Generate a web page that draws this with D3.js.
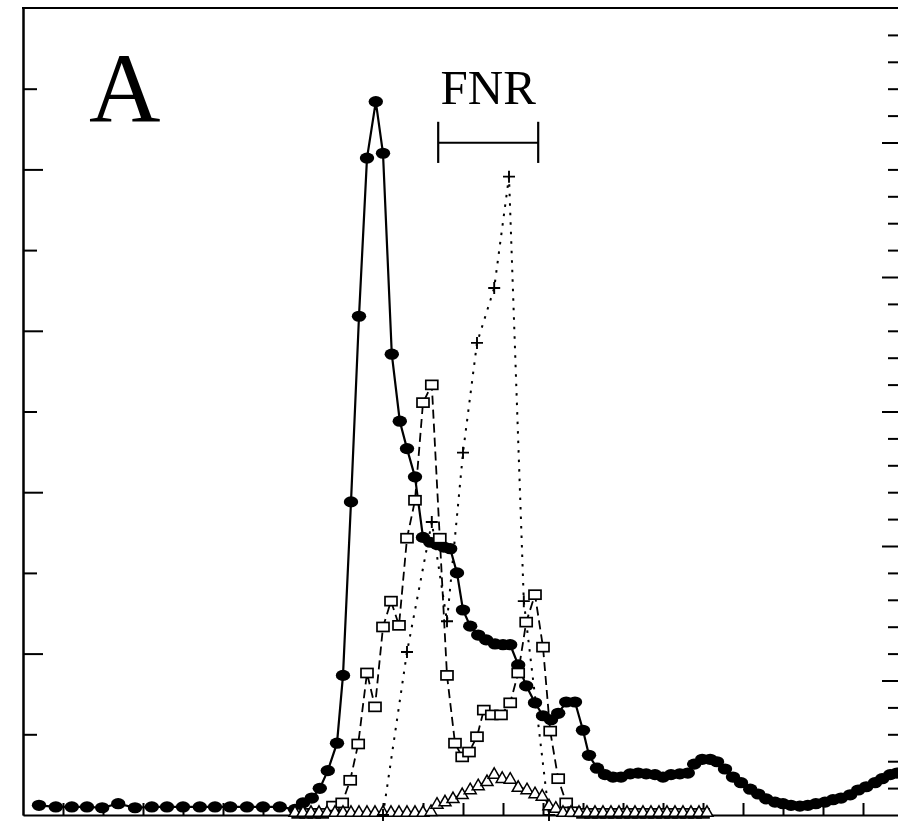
<!DOCTYPE html>
<html>
<head>
<meta charset="utf-8">
<script src="https://cdn.jsdelivr.net/npm/d3@7"></script>
<style>
  html, body { margin: 0; padding: 0; background: #fff; }
  svg { display: block; }
</style>
</head>
<body>
<svg id="chart" width="898" height="837"></svg>
<script>
// ---- Data (fraction number, left-axis value) ----
const circleX = [2.0,4.1,6.1,8.0,9.9,11.9,14.0,16.1,18.0,20.0,22.1,24.0,25.9,28.0,30.0,32.1,34.0,35.0,36.1,37.1,38.1,39.25,40.0,41.0,42.0,43.0,44.1,45.0,46.1,47.1,48.0,49.0,50.0,50.9,51.75,52.6,53.4,54.25,55.0,55.9,56.9,57.9,59.0,60.0,60.9,61.9,62.9,64.0,65.0,66.0,66.9,67.9,69.0,70.0,70.75,71.75,72.75,73.75,74.75,75.9,76.9,77.9,79.0,80.0,81.0,82.1,83.1,83.9,84.9,85.9,86.75,87.75,88.75,89.75,90.9,91.9,92.9,94.0,95.0,96.0,97.1,98.1,99.1,100.25,101.25,102.25,103.4,104.4,105.4,106.5,107.4,108.4,109.25];
const circleY = [0.12,0.10,0.10,0.10,0.09,0.14,0.09,0.10,0.10,0.10,0.10,0.10,0.10,0.10,0.10,0.10,0.07,0.15,0.21,0.33,0.55,0.89,1.73,3.88,6.18,8.14,8.84,8.20,5.71,4.88,4.54,4.19,3.44,3.38,3.35,3.32,3.30,3.00,2.54,2.34,2.23,2.17,2.12,2.11,2.11,1.86,1.60,1.39,1.23,1.18,1.26,1.40,1.40,1.05,0.74,0.58,0.50,0.47,0.47,0.51,0.52,0.51,0.50,0.47,0.50,0.51,0.52,0.63,0.69,0.69,0.66,0.57,0.47,0.40,0.32,0.26,0.20,0.16,0.14,0.12,0.11,0.12,0.14,0.16,0.19,0.21,0.25,0.31,0.35,0.40,0.45,0.50,0.52];

const squareX = [34.4,35.4,36.4,37.4,38.75,39.9,40.9,41.9,43.0,44.0,45.0,46.0,47.0,48.0,49.0,50.0,51.1,52.1,53.0,54.0,54.9,55.75,56.75,57.6,58.6,59.75,60.9,61.9,62.9,64.0,65.0,65.9,66.9,67.9,68.9,70,71,72,73,74,75,76,77,78,79,80,81,82,83,84,85];
const squareY = [0.02,0.02,0.02,0.02,0.11,0.15,0.43,0.88,1.76,1.34,2.33,2.65,2.35,3.43,3.90,5.11,5.33,3.43,1.73,0.89,0.72,0.78,0.97,1.30,1.24,1.24,1.39,1.76,2.39,2.73,2.08,1.04,0.45,0.15,0.04,0.02,0.02,0.02,0.02,0.02,0.02,0.02,0.02,0.02,0.02,0.02,0.02,0.02,0.02,0.02,0.02];

const triangleX = [34,35,36,37,38,39,40,41,42,43,44,45,46,47,48,49,50,51,51.75,52.75,53.75,54.9,55.9,56.9,58.0,58.9,59.9,60.9,61.9,63.0,64.0,64.9,65.75,66.6,67.5,68.5,69.5,70.5,71.5,72.5,73.5,74.5,75.5,76.5,77.5,78.5,79.5,80.5,81.5,82.5,83.5,84.5,85.5];
const triangleY = [0.04,0.04,0.04,0.04,0.04,0.04,0.04,0.04,0.04,0.04,0.04,0.04,0.04,0.04,0.04,0.04,0.04,0.05,0.14,0.17,0.21,0.26,0.32,0.37,0.42,0.51,0.46,0.45,0.35,0.32,0.27,0.24,0.12,0.09,0.04,0.04,0.04,0.04,0.04,0.04,0.04,0.04,0.04,0.04,0.04,0.04,0.04,0.04,0.04,0.04,0.04,0.04,0.04];

const plusX = [45.0,48.0,51.1,53.0,55.0,56.75,58.9,60.75,62.6,65.75];
const plusY = [0.0,2.02,3.63,2.40,4.49,5.85,6.53,7.91,2.65,0.0];

const leftMajorTicks = [2,4,6,8];
const leftMinorTicks = [1,3,5,7,9];
const bottomTicks = d3.range(5, 110, 5);
const rightTicks = d3.range(1, 30, 1);

const panelLabel = "A";
const bracketLabel = "FNR";
const bracketRange = [51.9, 64.4];
const bracketLevel = [8.08, 8.33, 8.59];

// ---- Layout ----
const svg = d3.select("#chart");
const mLeft = 23, mTop = 8, mBottom = 815, mRight = 903;
const x = d3.scaleLinear().domain([0, 110]).range([mLeft, mRight]);
const y = d3.scaleLinear().domain([0, 10]).range([mBottom, mTop]);
const yR = d3.scaleLinear().domain([0, 30]).range([mBottom, mTop]);

const zip = (a, b) => a.map((v, i) => [v, b[i]]);
const circles = zip(circleX, circleY);
const squares = zip(squareX, squareY);
const triangles = zip(triangleX, triangleY);
const pluses = zip(plusX, plusY);

// Frame
const axisStyle = g => g.selectAll("path, line").attr("stroke", "#000").attr("stroke-width", 2);

svg.append("g").attr("transform", `translate(${mLeft},0)`)
  .call(d3.axisLeft(y).tickValues(leftMajorTicks).tickSizeInner(-20).tickSizeOuter(0).tickFormat(""))
  .call(axisStyle);
svg.append("g").attr("transform", `translate(${mLeft},0)`)
  .call(d3.axisLeft(y).tickValues(leftMinorTicks).tickSizeInner(-14).tickSizeOuter(0).tickFormat(""))
  .call(axisStyle);
svg.append("g").attr("transform", `translate(0,${mBottom})`)
  .call(d3.axisBottom(x).tickValues(bottomTicks).tickSizeInner(-12).tickSizeOuter(0).tickFormat(""))
  .call(axisStyle);
svg.append("g").attr("transform", `translate(${mRight},0)`)
  .call(d3.axisRight(yR).tickValues(rightTicks).tickSizeOuter(0).tickFormat("")
        .tickSizeInner(-15))
  .call(axisStyle)
  .selectAll(".tick line").attr("x2", d => d % 5 === 0 ? -21 : -15);
svg.append("line").attr("x1", mLeft - 1).attr("x2", mRight).attr("y1", mTop).attr("y2", mTop)
  .attr("stroke", "#000").attr("stroke-width", 2);

// Lines
const line = d3.line().x(d => x(d[0])).y(d => y(d[1]));
svg.append("path").datum(triangles).attr("d", line).attr("fill", "none")
  .attr("stroke", "#000").attr("stroke-width", 1.2);
svg.append("path").datum(pluses).attr("d", line).attr("fill", "none")
  .attr("stroke", "#000").attr("stroke-width", 2).attr("stroke-dasharray", "2.5,7");
svg.append("path").datum(squares).attr("d", line).attr("fill", "none")
  .attr("stroke", "#000").attr("stroke-width", 1.8).attr("stroke-dasharray", "9,5");
svg.append("path").datum(circles).attr("d", line).attr("fill", "none")
  .attr("stroke", "#000").attr("stroke-width", 2.2);

// Markers
svg.append("g").selectAll("ellipse").data(circles).join("ellipse")
  .attr("cx", d => x(d[0])).attr("cy", d => y(d[1]))
  .attr("rx", 7.2).attr("ry", 5.6).attr("fill", "#000");

svg.append("g").selectAll("rect").data(squares).join("rect")
  .attr("x", d => x(d[0]) - 6).attr("y", d => y(d[1]) - 4.5)
  .attr("width", 12).attr("height", 9)
  .attr("fill", "#fff").attr("stroke", "#000").attr("stroke-width", 1.7);

svg.append("g").selectAll("path").data(triangles).join("path")
  .attr("d", d => {
    const cx = x(d[0]), cy = y(d[1]);
    return `M${cx},${cy - 6}L${cx + 6},${cy + 4.5}L${cx - 6},${cy + 4.5}Z`;
  })
  .attr("fill", "#fff").attr("stroke", "#000").attr("stroke-width", 1.5);

svg.append("g").selectAll("path").data(pluses).join("path")
  .attr("d", d => {
    const cx = x(d[0]), cy = y(d[1]);
    return `M${cx - 6},${cy}H${cx + 6}M${cx},${cy - 6}V${cy + 6}`;
  })
  .attr("stroke", "#000").attr("stroke-width", 1.9).attr("fill", "none");

// Annotations
svg.append("text").attr("x", 89).attr("y", 122)
  .attr("font-family", "'Liberation Serif', 'DejaVu Serif', serif")
  .attr("font-size", 99).attr("fill", "#000").text(panelLabel);

svg.append("text").attr("x", (x(bracketRange[0]) + x(bracketRange[1])) / 2).attr("y", 104)
  .attr("text-anchor", "middle")
  .attr("font-family", "'Liberation Serif', 'DejaVu Serif', serif")
  .attr("font-size", 49).attr("fill", "#000").text(bracketLabel);

const br = svg.append("g").attr("stroke", "#000").attr("stroke-width", 2.2);
br.append("line").attr("x1", x(bracketRange[0])).attr("x2", x(bracketRange[1]))
  .attr("y1", y(bracketLevel[1])).attr("y2", y(bracketLevel[1]));
bracketRange.forEach(v => {
  br.append("line").attr("x1", x(v)).attr("x2", x(v))
    .attr("y1", y(bracketLevel[0])).attr("y2", y(bracketLevel[2]));
});
</script>
</body>
</html>
